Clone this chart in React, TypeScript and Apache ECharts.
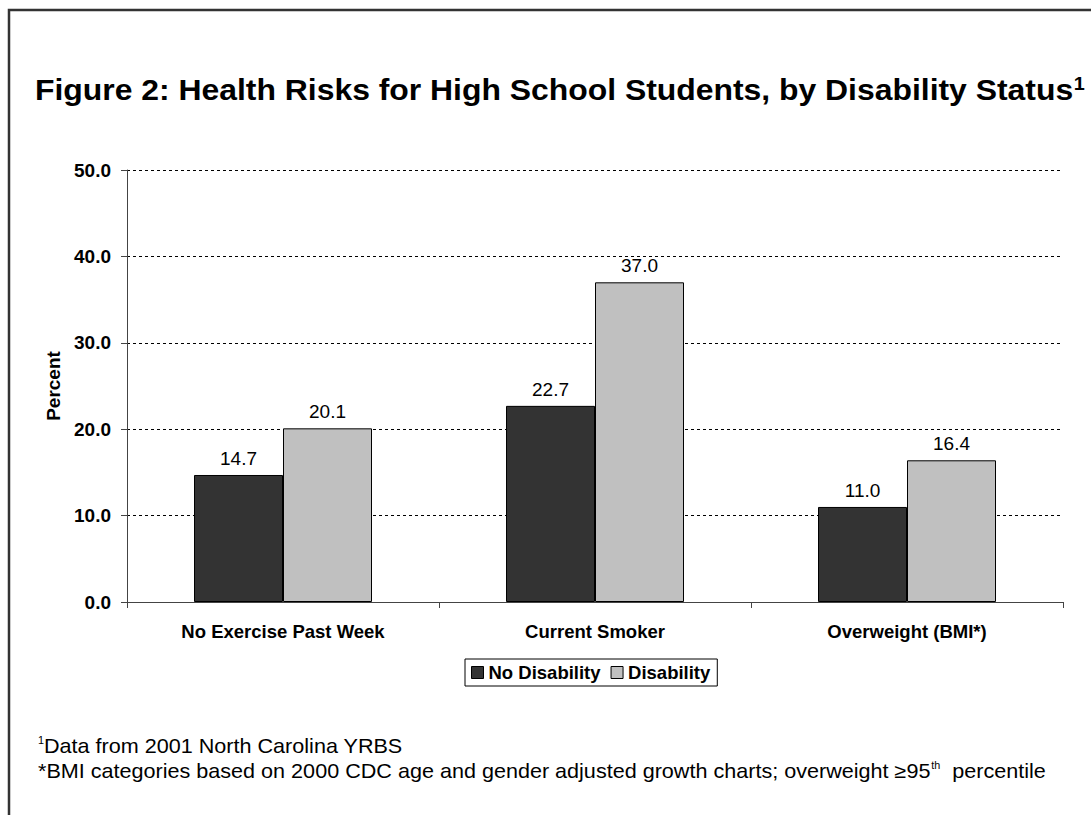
import React, { useEffect, useRef } from "react";
import * as echarts from "echarts";

const categories = ["No Exercise Past Week", "Current Smoker", "Overweight (BMI*)"];
const noDisability = [14.7, 22.7, 11.0];
const disability = [20.1, 37.0, 16.4];
const seriesNames = ["No Disability", "Disability"];

const FONT = "'Liberation Sans', Arial, Helvetica, sans-serif";

export default function App() {
  const ref = useRef<HTMLDivElement>(null);

  useEffect(() => {
    if (!ref.current) return;
    const chart = echarts.init(ref.current, null, { renderer: "svg" });
    const labelCfg = {
      show: true,
      position: "top",
      distance: 7,
      color: "#000",
      fontFamily: FONT,
      fontSize: 19,
      formatter: (p: any) => Number(p.value).toFixed(1),
    };
    chart.setOption({
      animation: false,
      backgroundColor: "#fff",
      textStyle: { fontFamily: FONT },
      grid: { left: 127, right: 28, top: 170, bottom: 213, containLabel: false },
      graphic: [
        {
          type: "rect",
          shape: { x: 9, y: 10, width: 1300, height: 1000 },
          style: { fill: "none", stroke: "#333", lineWidth: 2.5 },
          silent: true,
        },
        {
          type: "text",
          x: 35,
          y: 90,
          scaleX: 1.1,
          style: {
            text: "{t|Figure 2: Health Risks for High School Students, by Disability Status}{s|1}",
            verticalAlign: "middle",
            rich: {
              t: { fontFamily: FONT, fontSize: 29, fontWeight: "bold", fill: "#000" },
              s: { fontFamily: FONT, fontSize: 18, fontWeight: "bold", fill: "#000", padding: [0, 0, 12, 0] },
            },
          },
        },
        {
          type: "text",
          x: 38,
          y: 746,
          scaleX: 1.08,
          style: {
            text: "{s|1}{t|Data from 2001 North Carolina YRBS}",
            verticalAlign: "middle",
            rich: {
              t: { fontFamily: FONT, fontSize: 20, fill: "#000" },
              s: { fontFamily: FONT, fontSize: 10, fill: "#000", padding: [0, 0, 10, 0] },
            },
          },
        },
        {
          type: "text",
          x: 38,
          y: 771,
          scaleX: 1.08,
          style: {
            text: "{t|*BMI categories based on 2000 CDC age and gender adjusted growth charts; overweight ≥95}{s|th}{t|  percentile}",
            verticalAlign: "middle",
            rich: {
              t: { fontFamily: FONT, fontSize: 20, fill: "#000" },
              s: { fontFamily: FONT, fontSize: 10, fill: "#000", padding: [0, 0, 10, 0] },
            },
          },
        },
      ],
      legend: {
        data: seriesNames,
        left: 465,
        top: 659,
        orient: "horizontal",
        itemWidth: 12,
        itemHeight: 12,
        itemGap: 10,
        padding: [4, 7, 4, 6],
        borderColor: "#000",
        borderWidth: 1,
        icon: "rect",
        itemStyle: { borderColor: "#000", borderWidth: 1 },
        textStyle: { fontFamily: FONT, fontSize: 18.5, fontWeight: "bold", color: "#000", padding: [0, 0, 0, 0] },
      },
      xAxis: {
        type: "category",
        data: categories,
        axisLine: { lineStyle: { color: "#444", width: 1 } },
        axisTick: { show: true, length: 6, inside: false, lineStyle: { color: "#444" } },
        axisLabel: { fontFamily: FONT, fontSize: 18.5, fontWeight: "bold", color: "#000", margin: 20 },
      },
      yAxis: {
        type: "value",
        min: 0,
        max: 50,
        interval: 10,
        name: "Percent",
        nameLocation: "middle",
        nameGap: 64,
        nameRotate: 90,
        nameTextStyle: { fontFamily: FONT, fontSize: 19, fontWeight: "bold", color: "#000" },
        axisLine: { show: true, lineStyle: { color: "#444", width: 1 } },
        axisTick: { show: true, length: 6, inside: false, lineStyle: { color: "#444" } },
        axisLabel: {
          fontFamily: FONT,
          fontSize: 19,
          fontWeight: "bold",
          color: "#000",
          margin: 16,
          formatter: (v: number) => v.toFixed(1),
        },
        splitLine: { show: true, lineStyle: { color: "#000", type: [3, 3], width: 1 } },
      },
      series: [
        {
          name: seriesNames[0],
          type: "bar",
          data: noDisability,
          barWidth: 89,
          barGap: "0%",
          itemStyle: { color: "#333333", borderColor: "#000", borderWidth: 1 },
          label: labelCfg,
        },
        {
          name: seriesNames[1],
          type: "bar",
          data: disability,
          barWidth: 89,
          barGap: "0%",
          itemStyle: { color: "#c0c0c0", borderColor: "#000", borderWidth: 1 },
          label: labelCfg,
        },
      ],
    });
    return () => chart.dispose();
  }, []);

  return (
    <div
      ref={ref}
      style={{ position: "fixed", left: 0, top: 0, width: 1091, height: 815 }}
    />
  );
}
